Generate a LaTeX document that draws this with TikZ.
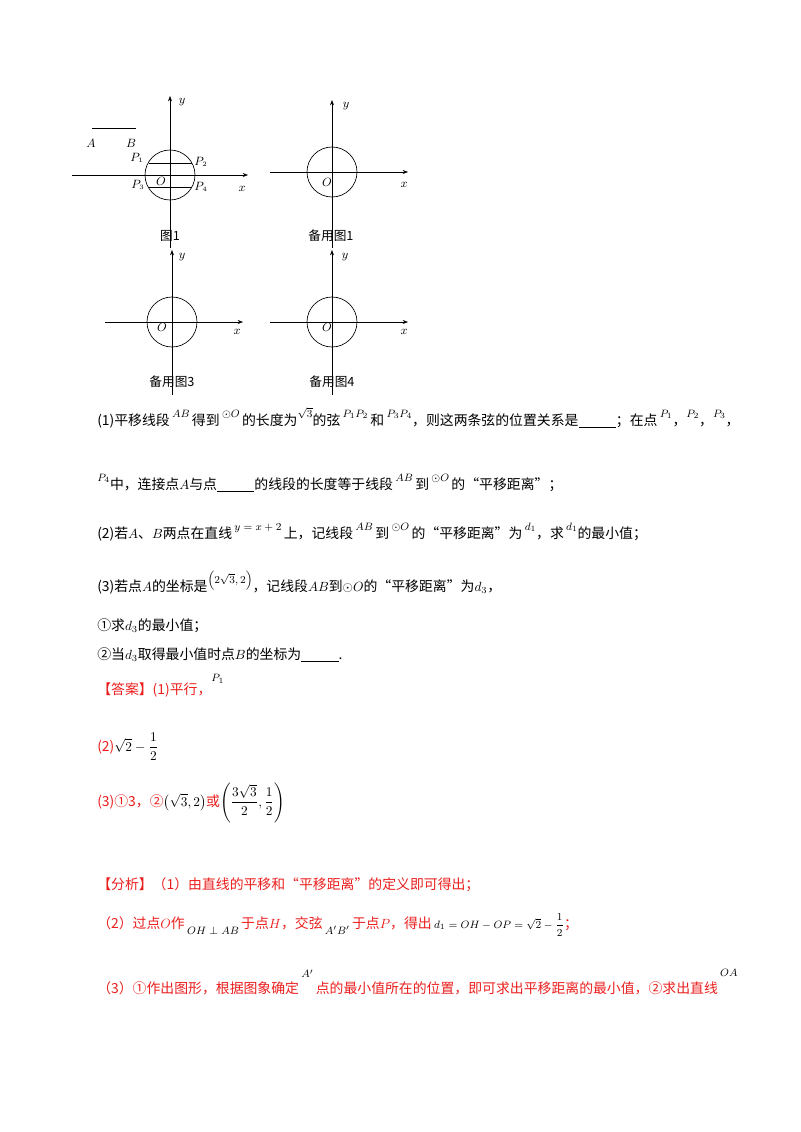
\documentclass[tikz,border=0pt]{standalone}
\usepackage{amsmath}
\usepackage{fontspec}
\usetikzlibrary{arrows.meta}
\setmainfont{Noto Sans CJK SC}
\definecolor{ans}{RGB}{235,30,30}
\newcommand{\up}[1]{\raisebox{1.0ex}{\footnotesize$#1$}}
\newcommand{\blank}{\underline{\hspace{28pt}}}
\begin{document}
\begin{tikzpicture}[x=0.75pt,y=-0.75pt,
  ax/.style={-{Stealth[length=4pt,width=3pt]},line width=0.4pt},
  cir/.style={draw,line width=0.5pt},
  lab/.style={font=\small,inner sep=0pt},
  capt/.style={font=\fontsize{9.5}{11}\selectfont,inner sep=0pt},
  txt/.style={anchor=base west,inner sep=0pt,font=\fontsize{10.4}{12}\selectfont},
  redtxt/.style={txt,text=ans}]
\useasboundingbox (0,0) rectangle (800,1132);
% Fig 1
\draw[ax] (72,175) -- (248,175);
\draw[ax] (170,248) -- (170,96);
\draw[cir] (170,175) circle (25);
\draw (148.5,163) -- (191.5,163);
\draw (148.5,187) -- (191.5,187);
\draw (92,128) -- (136,128);
\node[lab] (A) at (91,143) {$A$};
\node[lab] (B) at (131,143) {$B$};
\node[lab] (p1) at (137,158) {$P_{\scriptscriptstyle 1}$};
\node[lab] (p2) at (201,162) {$P_{\scriptscriptstyle 2}$};
\node[lab] (p3) at (138,185) {$P_{\scriptscriptstyle 3}$};
\node[lab] (p4) at (201,187) {$P_{\scriptscriptstyle 4}$};
\node[lab] (o1) at (161,181) {$O$};
\node[lab] (y1) at (182,102) {$y$};
\node[lab] (x1) at (242,189) {$x$};
\node[capt] (c1) at (170,236) {图1};
% Fig 2
\draw[ax] (270,172) -- (408,172);
\draw[ax] (332,248) -- (332,100);
\draw[cir] (332,172) circle (25);
\node[lab] (o2) at (327,182) {$O$};
\node[lab] (y2) at (346,106) {$y$};
\node[lab] (x2) at (404,185) {$x$};
\node[capt] (c2) at (331,236) {备用图1};
% Fig 3
\draw[ax] (105,322) -- (243,322);
\draw[ax] (172,395) -- (172,250);
\draw[cir] (172,322) circle (25);
\node[lab] (o3) at (162,327) {$O$};
\node[lab] (y3) at (182,257) {$y$};
\node[lab] (x3) at (237,332) {$x$};
\node[capt] (c3) at (172,382) {备用图3};
% Fig 4
\draw[ax] (270,322) -- (408,322);
\draw[ax] (332,395) -- (332,250);
\draw[cir] (332,322) circle (25);
\node[lab] (o4) at (327,327) {$O$};
\node[lab] (y4) at (345,257) {$y$};
\node[lab] (x4) at (404,332) {$x$};
\node[capt] (c4) at (332,382) {备用图4};
% text
\node[txt] (t1) at (97,425) {(1)平移线段\,\up{AB}\,得到\,\up{\odot O}\,的长度为\up{\sqrt3}的弦\,\up{P_1P_2}\,和\,\up{P_3P_4}，则这两条弦的位置关系是\blank；在点\,\up{P_1}，\up{P_2}，\up{P_3}，};
\node[txt] (t2) at (97,489) {\up{P_4}中，连接点$A$与点\blank 的线段的长度等于线段\,\up{AB}\,到\,\up{\odot O}\,的“平移距离”；};
\node[txt] (t3) at (97,538) {(2)若$A$、$B$两点在直线\,\up{y=x+2}\,上，记线段\,\up{AB}\,到\,\up{\odot O}\,的“平移距离”为\,\up{d_1}，求\,\up{d_1}的最小值；};
\node[txt] (t4) at (97,591) {(3)若点$A$的坐标是\up{\left(2\sqrt3,2\right)}，记线段$AB$到$\odot O$的“平移距离”为$d_3$，};
\node[txt] (t5) at (97,630) {①求$d_3$的最小值；};
\node[txt] (t6) at (97,659) {②当$d_3$取得最小值时点$B$的坐标为\blank.};
\node[redtxt] (t7) at (97,694) {【答案】(1)平行，\textcolor{black}{\raisebox{1.6ex}{\footnotesize$P_1$}}};
\node[redtxt] (t8) at (97,751) {(2)\textcolor{black}{$\sqrt2-\dfrac12$}};
\node[redtxt] (t9) at (97,806) {(3)①3，②\textcolor{black}{$\left(\sqrt3,2\right)$}或\textcolor{black}{$\left(\dfrac{3\sqrt3}{2},\dfrac12\right)$}};
\node[redtxt] (t10) at (97,889) {【分析】（1）由直线的平移和“平移距离”的定义即可得出；};
\node[redtxt] (t11) at (97,928) {（2）过点$O$作\,\raisebox{-0.8ex}{\textcolor{black}{\footnotesize$OH\perp AB$}}\,于点$H$，交弦\,\raisebox{-0.8ex}{\textcolor{black}{\footnotesize$A'B'$}}\,于点$P$，得出\,\textcolor{black}{\footnotesize$d_1=OH-OP=\sqrt2-\dfrac12$}；};
\node[redtxt] (t12) at (97,993) {（3）①作出图形，根据图象确定\,\raisebox{2ex}{\textcolor{black}{\footnotesize$A'$}}\,点的最小值所在的位置，即可求出平移距离的最小值，②求出直线\,\raisebox{2.2ex}{\textcolor{black}{\footnotesize$OA$}}};
\end{tikzpicture}
\end{document}
